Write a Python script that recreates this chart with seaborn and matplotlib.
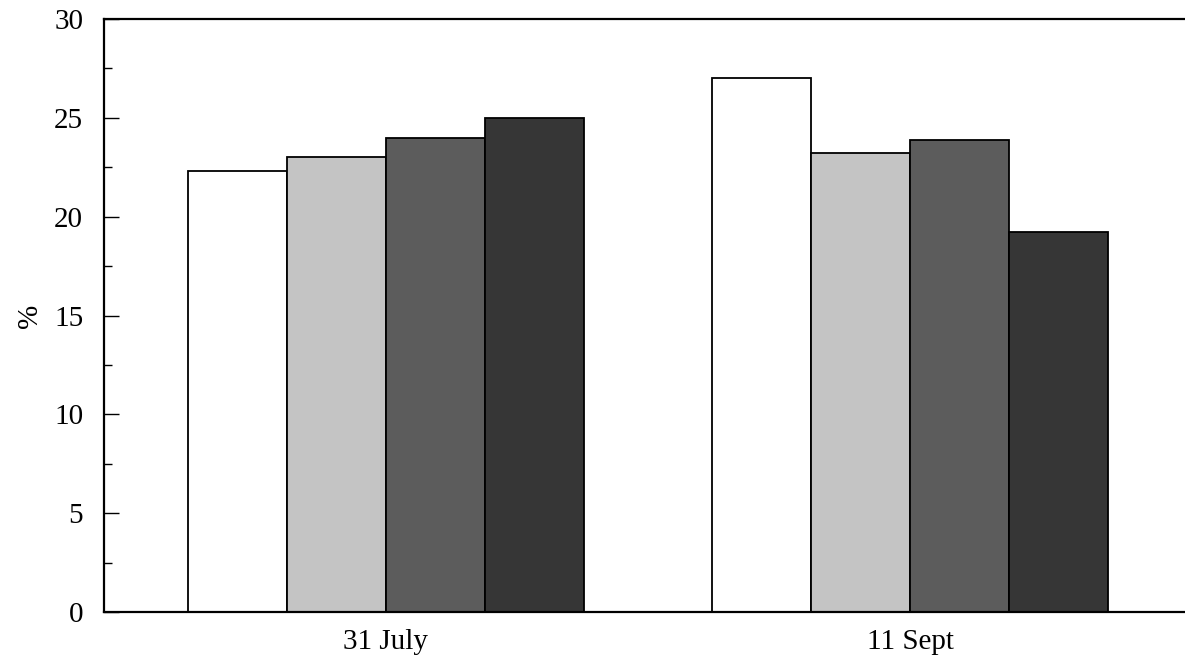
import matplotlib
matplotlib.use("Agg")
import matplotlib.pyplot as plt
import seaborn as sns
import pandas as pd
from matplotlib.ticker import MultipleLocator

# Sampling dates and the four treatments
dates = ["31 July", "11 Sept"]
treatments = ["T1", "T2", "T3", "T4"]
values_31_july = [22.3, 23.0, 24.0, 25.0]
values_11_sept = [27.0, 23.2, 23.9, 19.2]
fills = ["#ffffff", "#c4c4c4", "#5c5c5c", "#363636"]

rows = []
for d, vals in zip(dates, [values_31_july, values_11_sept]):
    for t, v in zip(treatments, vals):
        rows.append({"date": d, "treatment": t, "pct": v})
df = pd.DataFrame(rows)

sns.set_theme(style="white")
plt.rcParams["font.family"] = ["Liberation Serif", "DejaVu Serif"]
plt.rcParams["text.color"] = "black"
plt.rcParams["axes.labelcolor"] = "black"
plt.rcParams["xtick.color"] = "black"
plt.rcParams["ytick.color"] = "black"

fig = plt.figure(figsize=(11.85, 6.65), dpi=100)
ax = fig.add_axes([0.0878, 0.0797, 0.9122, 0.8917])

sns.barplot(data=df, x="date", y="pct", hue="treatment", order=dates,
            hue_order=treatments, palette=fills, width=0.755, gap=0,
            edgecolor="black", linewidth=1.3, saturation=1, legend=False,
            errorbar=None, ax=ax)

ax.set_ylim(0, 30)
ax.set_xlim(-0.537, 1.524)
ax.yaxis.set_major_locator(MultipleLocator(5))
ax.yaxis.set_minor_locator(MultipleLocator(2.5))
ax.tick_params(axis="y", which="major", direction="in", length=11, width=1,
               labelsize=21, pad=15, left=True, color="black",
               labelcolor="black")
ax.tick_params(axis="y", which="minor", direction="in", length=6, width=1,
               left=True, color="black")
ax.tick_params(axis="x", length=0, labelsize=21, pad=12, labelcolor="black")

ax.set_xlabel("")
ax.set_ylabel("%", fontsize=21, labelpad=8, color="black")

for side in ["left", "bottom", "top"]:
    ax.spines[side].set_visible(True)
    ax.spines[side].set_color("black")
    ax.spines[side].set_linewidth(1.6)
ax.spines["right"].set_visible(False)

fig.savefig("out.png", dpi=100)
